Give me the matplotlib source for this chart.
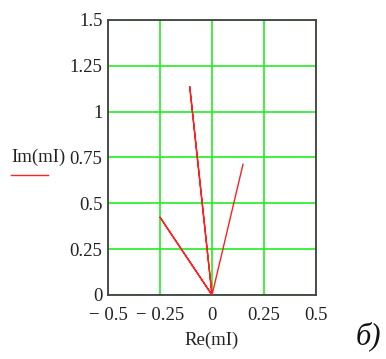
import matplotlib
matplotlib.use("Agg")
import matplotlib.pyplot as plt
from matplotlib.lines import Line2D

# phasor tips, each drawn as a segment from the origin
re_mI = [0.0, -0.25, 0.0, -0.107, 0.0, 0.149]
im_mI = [0.0, 0.424, 0.0, 1.136, 0.0, 0.713]

xticks = [-0.5, -0.25, 0, 0.25, 0.5]
yticks = [0, 0.25, 0.5, 0.75, 1, 1.25, 1.5]

def fmt(v):
    s = "%g" % abs(v)
    return ("\u2212 " + s) if v < 0 else s

plt.rcParams['font.family'] = ['Liberation Serif', 'DejaVu Serif']

fig = plt.figure(figsize=(3.86, 3.59), dpi=100)
ax = fig.add_axes([0.2798, 0.1783, 0.5389, 0.766])

ax.plot(re_mI, im_mI, color="#ff2020", lw=1.0, zorder=3)

ax.set_xlim(-0.5, 0.5)
ax.set_ylim(0, 1.5)
ax.set_xticks(xticks)
ax.set_yticks(yticks)
ax.set_xticklabels([fmt(v) for v in xticks])
ax.set_yticklabels([fmt(v) for v in yticks])
ax.tick_params(length=0, labelsize=13.5, colors="#222222")
ax.tick_params(axis="x", pad=9)
ax.tick_params(axis="y", pad=4)
ax.grid(True, color="#22ee22", lw=1.2)
ax.set_axisbelow(True)
for sp in ax.spines.values():
    sp.set_color("#404040")
    sp.set_linewidth(1.3)

fig.text(11 / 386, 1 - 157 / 359, "Im(mI)", fontsize=13.5, va="center", ha="left",
         color="#222222")
fig.add_artist(Line2D([11 / 386, 48 / 386], [1 - 175 / 359, 1 - 175 / 359],
                      color="#ff2020", lw=1.0))
fig.text(212 / 386, 1 - 340 / 359, "Re(mI)", fontsize=13.5, ha="center", va="center",
         color="#222222")
fig.text(368 / 386, 1 - 336 / 359, "\u0431)", fontsize=22, style="italic",
         ha="center", va="center", color="#111111")

fig.savefig("out.png", dpi=100)
